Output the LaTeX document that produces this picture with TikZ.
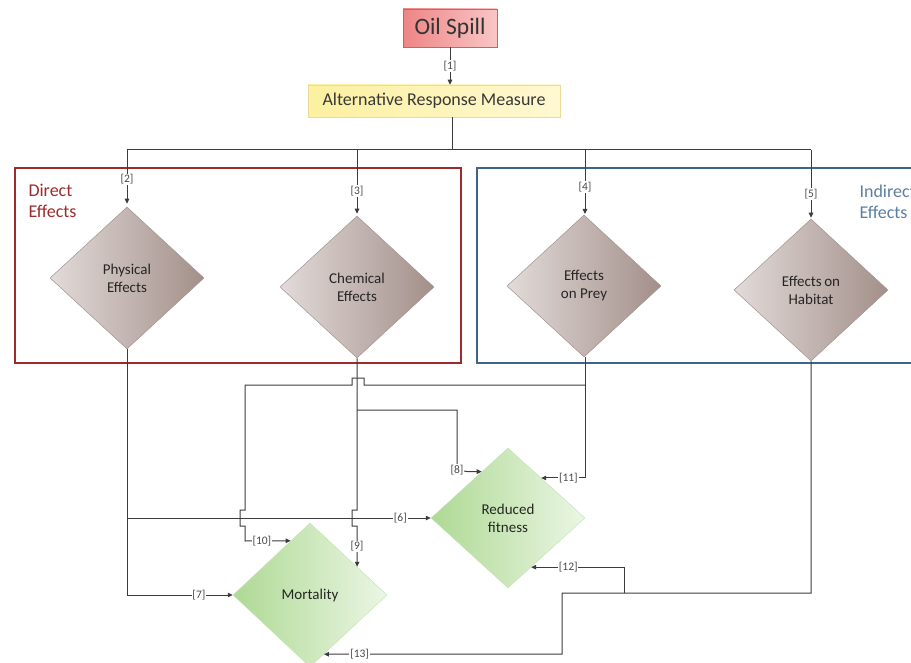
\documentclass[tikz,border=0pt]{standalone}
\usepackage{fontspec}
\setmainfont{Carlito}
\usetikzlibrary{shapes.geometric,arrows.meta,calc}
\definecolor{linec}{HTML}{3C3C3C}
\definecolor{labc}{HTML}{4A4A4A}
\definecolor{diab}{HTML}{A09490}
\definecolor{gyl}{HTML}{E2DBD9}
\definecolor{gyr}{HTML}{A38F8A}
\definecolor{grl}{HTML}{AED994}
\definecolor{grr}{HTML}{EBF6E4}
\definecolor{grb}{HTML}{C8E4B8}
\definecolor{oill}{HTML}{EE8585}
\definecolor{oilr}{HTML}{F9C6C6}
\definecolor{oilb}{HTML}{B86A6A}
\definecolor{arml}{HTML}{FCF0A0}
\definecolor{armr}{HTML}{FFF8D2}
\definecolor{armb}{HTML}{EADB9A}
\definecolor{dred}{HTML}{9E2A2B}
\definecolor{iblue}{HTML}{3F6488}
\definecolor{itext}{HTML}{5B7FA2}
\begin{document}
\begin{tikzpicture}[x=1pt,y=-1pt,
  ln/.style={draw=linec, line width=1pt},
  arr/.style={ln, -{Triangle[length=5pt,width=4.5pt]}},
  lab/.style={fill=white, inner sep=0.8pt, text=labc, font=\fontsize{11.5}{12}\selectfont},
  dia/.style={diamond, draw=diab, line width=0.5pt, minimum width=154pt, minimum height=142pt,
    inner sep=0pt, align=center, font=\fontsize{15}{18}\selectfont, text=black!85},
  graydia/.style={dia, left color=gyl, right color=gyr},
  greendia/.style={dia, draw=grb, left color=grl, right color=grr},
  groupbox/.style={line width=2.4pt},
  grouptext/.style={anchor=west, align=left, font=\fontsize{18}{21.5}\selectfont}
]
\useasboundingbox (0,0) rectangle (911,663);
\clip (0,0) rectangle (911,663);

% group boxes
\draw[groupbox, draw=dred] (15,168) rectangle (461,363);
\draw[groupbox, draw=iblue] (477,168) rectangle (940,363);
\node[grouptext, text=dred] (dtxt) at (25,201) {Direct\\Effects};
\node[grouptext, text=itext] (itxt) at (856,202) {Indirect\\Effects};

% top boxes
\node[draw=oilb, line width=0.6pt, left color=oill, right color=oilr, minimum width=94pt, minimum height=38pt,
  inner sep=0pt, font=\fontsize{23.5}{25}\selectfont, text=black!80] (oil) at (450,28) {Oil Spill};
\node[draw=armb, line width=0.6pt, left color=arml, right color=armr, minimum width=252pt, minimum height=32pt,
  inner sep=0pt, font=\fontsize{18}{20}\selectfont, text=black!78] (arm) at (434,101) {Alternative Response Measure};

% diamonds
\node[graydia] (phys) at (127,278) {Physical\\Effects};
\node[graydia] (chem) at (357,287) {Chemical\\Effects};
\node[graydia] (prey) at (584,286) {Effects\\on Prey};
\node[graydia] (hab) at (811,290) {Effects\,on\\Habitat};
\node[greendia, minimum height=140pt] (refit) at (508,518) {Reduced\\fitness};
\node[greendia, minimum height=144pt] (mort) at (310,595) {Mortality};

% junction coordinates
\coordinate (bus) at (452,150);
\coordinate (c8) at (357,410);
\coordinate (c10) at (585,385);
\coordinate (h1) at (624,593);
\coordinate (t8) at ($(refit.west)!0.66!(refit.north)$);
\coordinate (t11) at ($(refit.north)!0.43!(refit.east)$);
\coordinate (t12) at ($(refit.east)!0.70!(refit.south)$);
\coordinate (t9) at ($(mort.north)!0.61!(mort.east)$);
\coordinate (t10) at ($(mort.north)!0.25!(mort.west)$);
\coordinate (t13) at ($(mort.east)!0.82!(mort.south)$);

% top connectors
\draw[arr] (oil.south) -- node[lab]{[1]} (oil.south |- arm.north);
\draw[ln] (bus |- arm.south) -- (bus);
\draw[ln] (phys.north |- bus) -- (hab.north |- bus);
\draw[arr, shorten >=3pt] (phys.north |- bus) -- node[lab,pos=0.52]{[2]} (phys.north);
\draw[arr, shorten >=2pt] (chem.north |- bus) -- node[lab,pos=0.62]{[3]} (chem.north);
\draw[arr, shorten >=2pt] (585,150) -- node[lab,pos=0.56]{[4]} (585,216);
\draw[arr, shorten >=1pt] (hab.north |- bus) -- node[lab,pos=0.64]{[5]} (hab.north);

% physical effects
\draw[arr] (phys.south) |- node[lab,pos=0.84]{[7]} (mort.west);
\draw[arr] (phys.south |- refit.west) -- node[lab,pos=0.9]{[6]} (refit.west);

% chemical effects
\draw[arr] (chem.south) -- (357,510) -- (352,510) -- (352,526) -- (357,526)
  -- node[lab,pos=0.5]{[9]} (t9);
\draw[arr] (c8) -- (457,410) -- (457,470) node[lab]{[8]} -- (t8 -| 468,0) -- (t8);

% prey
\draw[arr] (585,357) |- node[lab,pos=0.69]{[11]} (t11);
\draw[arr] (c10) -- (364,385) -- (364,378) -- (352,378) -- (352,385) -- (245,385)
  -- (245,510) -- (240,510) -- (240,526) -- (245,526) -- (245,541)
  -- node[lab,pos=0.37]{[10]} (t10);

% habitat
\draw[arr] (hab.south) |- (562,593) -- (562,654) -- node[lab,pos=0.85]{[13]} (t13);
\draw[arr] (h1) |- node[lab,pos=0.8]{[12]} (t12);
\end{tikzpicture}
\end{document}
